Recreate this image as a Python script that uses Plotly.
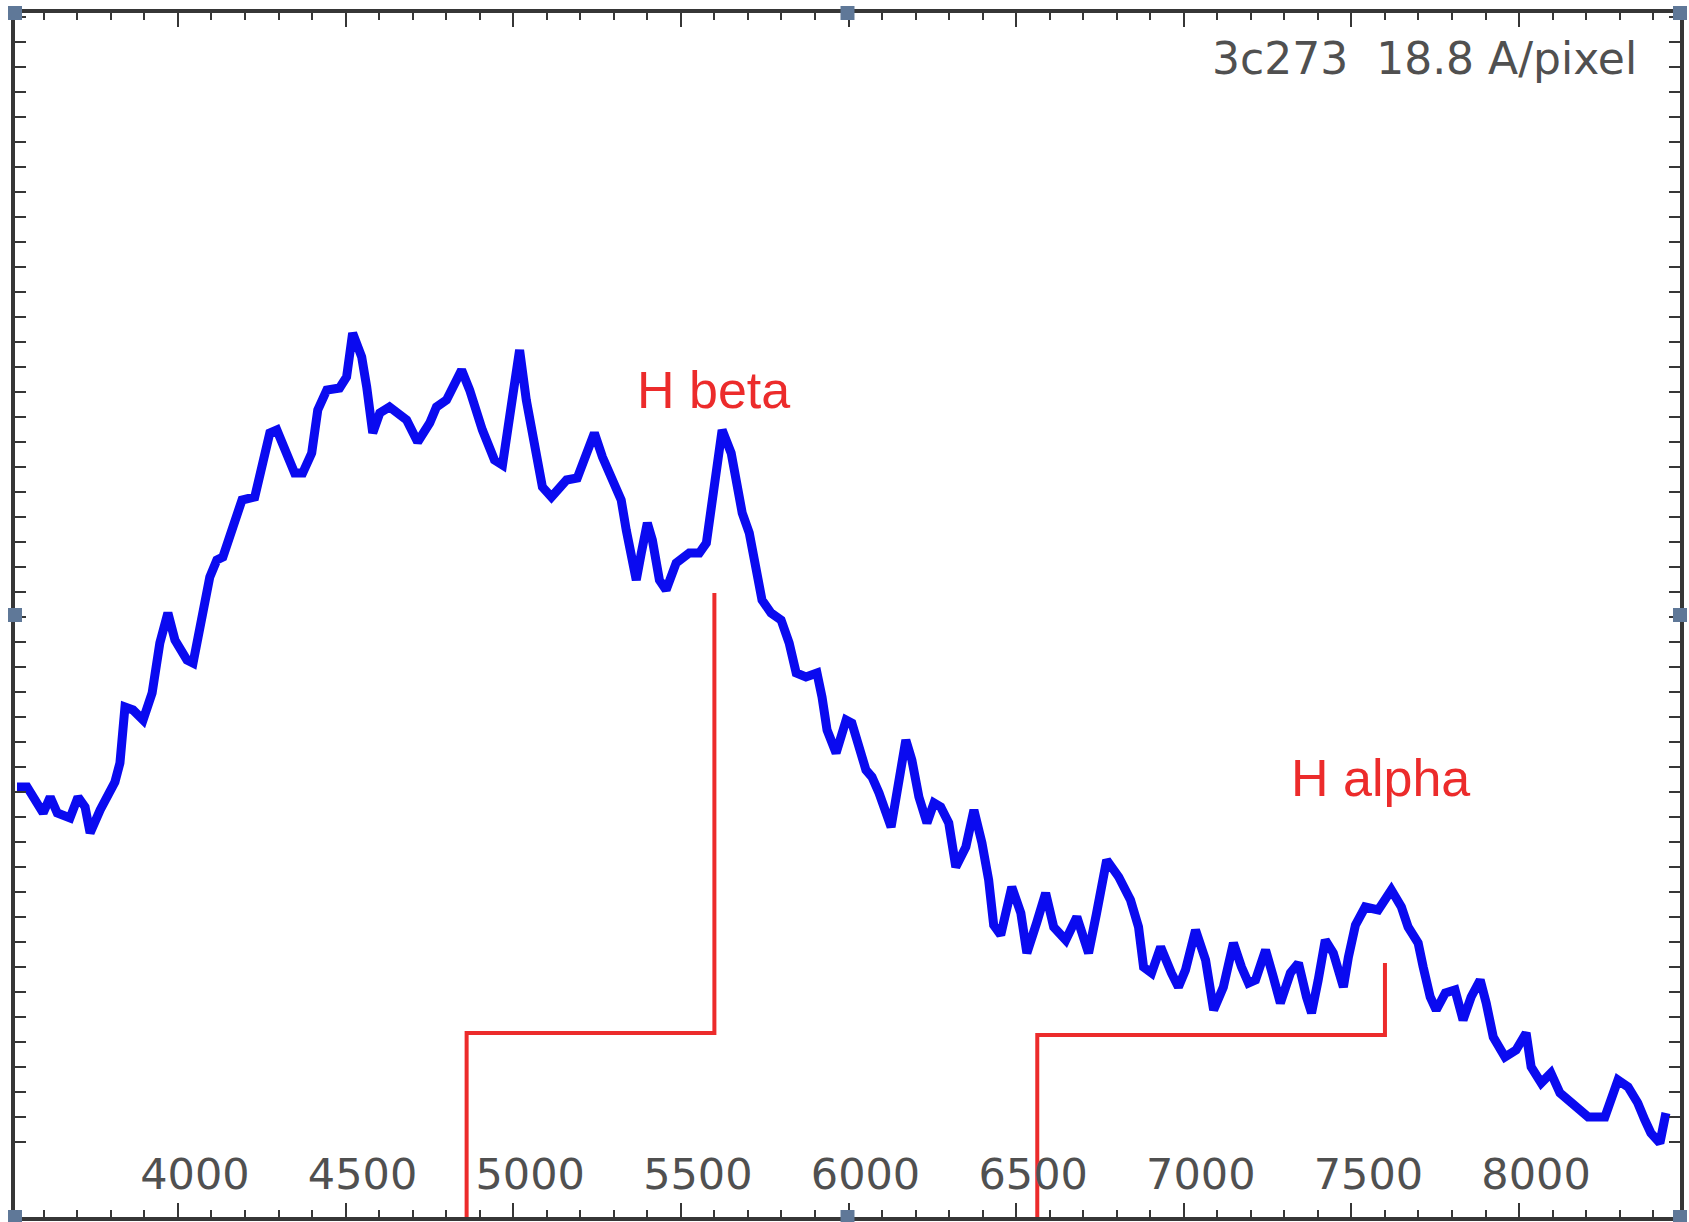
import plotly.graph_objects as go

# Spectrum of 3C 273 (wavelength in Angstrom, relative flux)
wavelength = [
    3520, 3550, 3598, 3619, 3640, 3678, 3702, 3723, 3738, 3768,
    3812, 3827, 3842, 3866, 3896, 3923, 3946, 3970, 3991, 4027,
    4045, 4074, 4095, 4116, 4134, 4164, 4191, 4229, 4250, 4274,
    4295, 4325, 4348, 4372, 4399, 4417, 4444, 4482, 4503, 4521,
    4548, 4563, 4581, 4602, 4631, 4682, 4715, 4751, 4771, 4801,
    4846, 4870, 4908, 4944, 4968, 4998, 5019, 5039, 5063, 5087,
    5114, 5159, 5191, 5221, 5242, 5266, 5296, 5322, 5337, 5355,
    5367, 5382, 5400, 5415, 5436, 5456, 5486, 5525, 5555, 5576,
    5590, 5605, 5623, 5650, 5665, 5683, 5704, 5724, 5742, 5769,
    5799, 5823, 5844, 5873, 5906, 5921, 5936, 5963, 5993, 6010,
    6031, 6052, 6070, 6091, 6127, 6150, 6171, 6189, 6210, 6234,
    6255, 6275, 6299, 6320, 6350, 6374, 6398, 6418, 6433, 6454,
    6487, 6514, 6532, 6561, 6588, 6612, 6648, 6681, 6716, 6740,
    6770, 6806, 6841, 6865, 6880, 6904, 6931, 6963, 6984, 7005,
    7035, 7065, 7089, 7118, 7148, 7172, 7193, 7214, 7244, 7267,
    7288, 7318, 7342, 7366, 7381, 7401, 7422, 7446, 7476, 7491,
    7512, 7541, 7580, 7619, 7649, 7669, 7699, 7714, 7735, 7753,
    7780, 7809, 7833, 7857, 7884, 7902, 7923, 7958, 7991, 8021,
    8036, 8066, 8095, 8122, 8167, 8206, 8256, 8274, 8295, 8325,
    8354, 8375, 8393, 8420, 8429, 8438,
]
flux = [
    17.20, 17.20, 16.16, 16.80, 16.16, 15.96, 16.80, 16.40, 15.36, 16.28,
    17.40, 18.16, 20.40, 20.28, 19.88, 20.96, 22.96, 24.16, 23.08, 22.28,
    22.16, 24.00, 25.60, 26.28, 26.40, 27.60, 28.68, 28.80, 30.00, 31.36,
    31.48, 30.56, 29.76, 29.76, 30.56, 32.28, 33.08, 33.16, 33.60, 35.36,
    34.40, 33.20, 31.36, 32.16, 32.40, 31.88, 31.00, 31.76, 32.40, 32.68,
    33.88, 33.08, 31.48, 30.28, 30.08, 32.80, 34.68, 32.68, 31.08, 29.20,
    28.80, 29.48, 29.56, 30.60, 31.36, 30.40, 29.36, 28.68, 27.48, 26.00,
    25.48, 26.56, 27.76, 27.08, 25.48, 25.08, 26.16, 26.56, 26.56, 26.96,
    28.40, 30.00, 31.48, 30.56, 29.48, 28.16, 27.36, 26.00, 24.68, 24.16,
    23.88, 22.96, 21.76, 21.60, 21.76, 20.80, 19.48, 18.56, 19.88, 19.76,
    18.68, 17.88, 17.60, 16.96, 15.60, 17.48, 19.08, 18.28, 16.80, 15.76,
    16.56, 16.40, 15.76, 14.00, 14.80, 16.28, 14.96, 13.48, 11.68, 11.28,
    13.20, 12.16, 10.56, 11.76, 12.96, 11.60, 11.08, 12.00, 10.56, 12.16,
    14.28, 13.60, 12.68, 11.60, 10.00, 9.76, 10.80, 9.76, 9.20, 9.88,
    11.48, 10.28, 8.28, 9.20, 10.96, 10.00, 9.36, 9.48, 10.68, 9.60,
    8.56, 9.76, 10.16, 8.80, 8.16, 9.48, 11.08, 10.56, 9.20, 10.40,
    11.68, 12.40, 12.28, 13.08, 12.40, 11.60, 10.96, 10.00, 8.80, 8.28,
    8.96, 9.08, 7.88, 8.80, 9.48, 8.56, 7.20, 6.40, 6.68, 7.36,
    6.00, 5.36, 5.76, 4.96, 4.40, 4.00, 4.00, 4.80, 5.48, 5.20,
    4.56, 3.88, 3.36, 2.96, 3.60, 4.16,
]

# Balmer lines: rest wavelength, observed (redshifted) wavelength,
# height of the connecting bar and top of the observed-line marker
line_names = ["H beta", "H alpha"]
rest_wavelength = [4861, 6563]
observed_wavelength = [5600, 7600]
bar_level = [7.36, 7.28]
marker_top = [24.96, 10.16]
label_x = [5596, 7586]
label_y = [33.08, 17.56]

x_ticks = [4000, 4500, 5000, 5500, 6000, 6500, 7000, 7500, 8000]
x_range = [3514, 8480]
y_range = [0, 48.16]

caption = "3c273\u00a0 18.8 A/pixel"

RED = "#ec2b2b"
FRAME = "#363636"
TEXT_GREY = "#505050"

fig = go.Figure()

# bracket markers from rest wavelength to observed line position
for rest, obs, lvl, top in zip(rest_wavelength, observed_wavelength, bar_level, marker_top):
    fig.add_trace(go.Scatter(
        x=[rest, rest, obs, obs],
        y=[y_range[0] - 1, lvl, lvl, top],
        mode="lines",
        line=dict(color=RED, width=4),
        hoverinfo="skip",
        showlegend=False,
    ))

fig.add_trace(go.Scatter(
    x=wavelength, y=flux,
    mode="lines",
    line=dict(color="#0a0af0", width=9),
    showlegend=False,
))

for name, lx, ly in zip(line_names, label_x, label_y):
    fig.add_annotation(
        x=lx, y=ly, text=name, showarrow=False,
        font=dict(family="Liberation Sans, Arial, sans-serif", size=52, color=RED),
        xanchor="center", yanchor="middle",
    )

fig.add_annotation(
    xref="paper", yref="paper", x=0.9754, y=0.9618,
    text=caption, showarrow=False,
    font=dict(family="DejaVu Sans, sans-serif", size=44, color=TEXT_GREY),
    xanchor="right", yanchor="middle",
)

# small square handles on the frame corners and edge midpoints
hw, hh = 7 / 1667, 7 / 1204
for px, py in [(0, 0), (0.5, 0), (1, 0), (0, 0.5), (1, 0.5), (0, 1), (0.5, 1), (1, 1)]:
    fig.add_shape(
        type="rect", xref="paper", yref="paper",
        x0=px - hw, x1=px + hw, y0=py - hh, y1=py + hh,
        fillcolor="#5f7898", line=dict(width=0), layer="above",
    )

fig.update_xaxes(
    range=x_range,
    tickvals=x_ticks,
    ticktext=[str(v) for v in x_ticks],
    ticks="inside", ticklen=14, tickwidth=2, tickcolor=FRAME,
    ticklabelposition="inside",
    ticklabelshift=17,
    ticklabelstandoff=11,
    tickfont=dict(family="DejaVu Sans, sans-serif", size=43, color=TEXT_GREY),
    minor=dict(ticks="inside", ticklen=7, tickwidth=2, tickcolor=FRAME, dtick=100, tick0=0),
    showline=True, linecolor=FRAME, linewidth=4, mirror="allticks",
    showgrid=False, zeroline=False,
)
fig.update_yaxes(
    range=y_range,
    tick0=0, dtick=1,
    ticks="inside", ticklen=11, tickwidth=2, tickcolor=FRAME,
    showticklabels=False,
    showline=True, linecolor=FRAME, linewidth=4, mirror="allticks",
    showgrid=False, zeroline=False,
)

fig.update_layout(
    width=1689, height=1222,
    margin=dict(l=15, r=7, t=13, b=5),
    paper_bgcolor="white", plot_bgcolor="white",
)

fig.write_html("out.html")
